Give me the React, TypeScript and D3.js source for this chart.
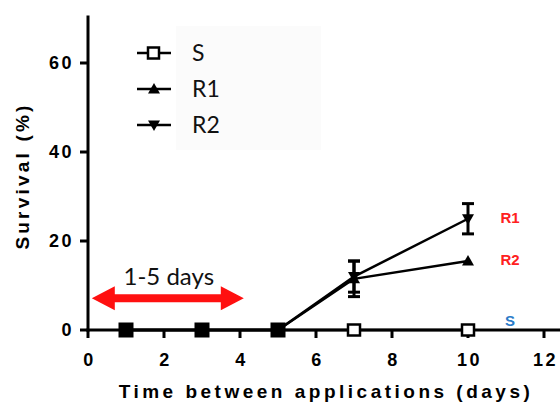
import React from "react";
import * as d3 from "d3";

const days = [1, 3, 5, 7, 10];
const sValues = [0, 0, 0, 0, 0];
const r1Values = [0, 0, 0, 11.5, 15.5];
const r1Errors = [0, 0, 0, 4, 0];
const r2Values = [0, 0, 0, 12, 25];
const r2Errors = [0, 0, 0, 3.5, 3.4];
const xTicks = [0, 2, 4, 6, 8, 10, 12];
const yTicks = [0, 20, 40, 60];
const legendItems = ["S", "R1", "R2"];
const sideLabels = [
  { text: "R1", value: 25, color: "#ff2020" },
  { text: "R2", value: 15.5, color: "#ff2020" },
  { text: "S", value: 2, color: "#2a7bc8" },
];
const arrowRange = [0.1, 4.1];
const arrowLevel = 7;

const W = 560;
const H = 403;

export default function App() {
  const x = d3.scaleLinear().domain([0, 12]).range([88, 544]);
  const y = d3.scaleLinear().domain([0, 70]).range([330, 18.5]);
  const line = d3
    .line<number>()
    .x((_, i) => x(days[i]))
    .y((v) => y(v));

  const tri = (cx: number, cy: number, up: boolean, s = 6) =>
    up
      ? `M${cx},${cy - s}L${cx + s},${cy + s * 0.75}L${cx - s},${cy + s * 0.75}Z`
      : `M${cx},${cy + s}L${cx + s},${cy - s * 0.75}L${cx - s},${cy - s * 0.75}Z`;

  const errBar = (xi: number, v: number, e: number, key: string) =>
    e > 0 ? (
      <g key={key} stroke="#000" strokeWidth={3}>
        <line x1={x(xi)} x2={x(xi)} y1={y(v - e)} y2={y(v + e)} />
        <line x1={x(xi) - 6} x2={x(xi) + 6} y1={y(v + e)} y2={y(v + e)} />
        <line x1={x(xi) - 6} x2={x(xi) + 6} y1={y(v - e)} y2={y(v - e)} />
      </g>
    ) : null;

  const font = "'Liberation Sans', Arial, sans-serif";
  const textFont = "Lato, 'Open Sans', sans-serif";

  const ax0 = x(arrowRange[0]);
  const ax1 = x(arrowRange[1]);
  const ay = y(arrowLevel) - 0.5;

  return (
    <svg width={W} height={H} style={{ position: "absolute", left: 0, top: 0 }}>
      <rect width={W} height={H} fill="#fff" />
      <rect x={176} y={26} width={145} height={124} fill="#fbfbfb" />

      {/* axes */}
      <line x1={88} x2={88} y1={y(70) - 3} y2={y(0) + 1.5} stroke="#000" strokeWidth={3} />
      <line x1={86.5} x2={W} y1={y(0)} y2={y(0)} stroke="#000" strokeWidth={3} />
      {yTicks.map((t) => (
        <g key={"y" + t}>
          <line x1={80} x2={88} y1={y(t)} y2={y(t)} stroke="#000" strokeWidth={3} />
          <text
            x={74}
            y={y(t)}
            dy="0.36em"
            textAnchor="end"
            fontFamily={font}
            fontWeight="bold"
            fontSize={18}
            letterSpacing={2.5}
          >
            {t}
          </text>
        </g>
      ))}
      {xTicks.map((t) => (
        <g key={"x" + t}>
          <line x1={x(t)} x2={x(t)} y1={y(0)} y2={y(0) + 8} stroke="#000" strokeWidth={3} />
          <text
            x={x(t) + 1.5}
            y={360}
            dy="0.36em"
            textAnchor="middle"
            fontFamily={font}
            fontWeight="bold"
            fontSize={18}
            letterSpacing={2.5}
          >
            {t}
          </text>
        </g>
      ))}
      <text
        transform={`translate(29,176) rotate(-90)`}
        textAnchor="middle"
        fontFamily={font}
        fontWeight="bold"
        fontSize={19}
        letterSpacing={3.2}
      >
        Survival (%)
      </text>
      <text
        x={326}
        y={397.5}
        textAnchor="middle"
        fontFamily={font}
        fontWeight="bold"
        fontSize={19}
        letterSpacing={3.5}
      >
        Time between applications (days)
      </text>

      {/* red arrow */}
      <path
        d={`M${ax0},${ay} L${ax0 + 23},${ay - 12} L${ax0 + 23},${ay - 4} L${ax1 - 23},${ay - 4} L${ax1 - 23},${ay - 12} L${ax1},${ay} L${ax1 - 23},${ay + 12} L${ax1 - 23},${ay + 4} L${ax0 + 23},${ay + 4} L${ax0 + 23},${ay + 12} Z`}
        fill="#ff1010"
      />
      <text
        x={(ax0 + ax1) / 2 + 1}
        y={285}
        textAnchor="middle"
        fontFamily={textFont}
        fontSize={24}
        fill="#111"
      >
        1-5 days
      </text>

      {/* lines */}
      <path d={line(sValues) || ""} fill="none" stroke="#000" strokeWidth={2.5} />
      <path d={line(r1Values) || ""} fill="none" stroke="#000" strokeWidth={2.5} />
      <path d={line(r2Values) || ""} fill="none" stroke="#000" strokeWidth={2.5} />

      {/* error bars */}
      {days.map((d, i) => errBar(d, r1Values[i], r1Errors[i], "e1" + i))}
      {days.map((d, i) => errBar(d, r2Values[i], r2Errors[i], "e2" + i))}

      {/* markers */}
      {days.map((d, i) => {
        const overlap = r1Values[i] === sValues[i] && r2Values[i] === sValues[i];
        return overlap ? (
          <rect
            key={"s" + i}
            x={x(d) - 7.5}
            y={y(sValues[i]) - 7.5}
            width={15}
            height={15}
            fill="#000"
          />
        ) : (
          <rect
            key={"s" + i}
            x={x(d) - 6}
            y={y(sValues[i]) - 5.5}
            width={12}
            height={11}
            fill="#fff"
            stroke="#000"
            strokeWidth={2.5}
          />
        );
      })}
      {days.map((d, i) =>
        r1Values[i] !== sValues[i] ? (
          <path key={"r1" + i} d={tri(x(d), y(r1Values[i]), true)} fill="#000" />
        ) : null
      )}
      {days.map((d, i) =>
        r2Values[i] !== sValues[i] ? (
          <path key={"r2" + i} d={tri(x(d), y(r2Values[i]), false)} fill="#000" />
        ) : null
      )}

      {/* side labels */}
      {sideLabels.map((l) => (
        <text
          key={l.text}
          x={510}
          y={l.text === "S" ? 321 : y(l.value) - 1}
          dy="0.36em"
          textAnchor="middle"
          fontFamily={font}
          fontWeight="bold"
          fontSize={15}
          fill={l.color}
        >
          {l.text}
        </text>
      ))}

      {/* legend */}
      {legendItems.map((name, i) => {
        const ly = 53 + i * 36;
        return (
          <g key={name}>
            <line x1={137} x2={171} y1={ly} y2={ly} stroke="#000" strokeWidth={2.5} />
            {i === 0 && (
              <rect x={148} y={ly - 5.5} width={11} height={11} fill="#fff" stroke="#000" strokeWidth={2.5} />
            )}
            {i === 1 && <path d={tri(154, ly, true, 6)} fill="#000" />}
            {i === 2 && <path d={tri(154, ly, false, 6)} fill="#000" />}
            <text x={192} y={ly} dy="0.36em" fontFamily={textFont} fontSize={23} fill="#111">
              {name}
            </text>
          </g>
        );
      })}
    </svg>
  );
}
